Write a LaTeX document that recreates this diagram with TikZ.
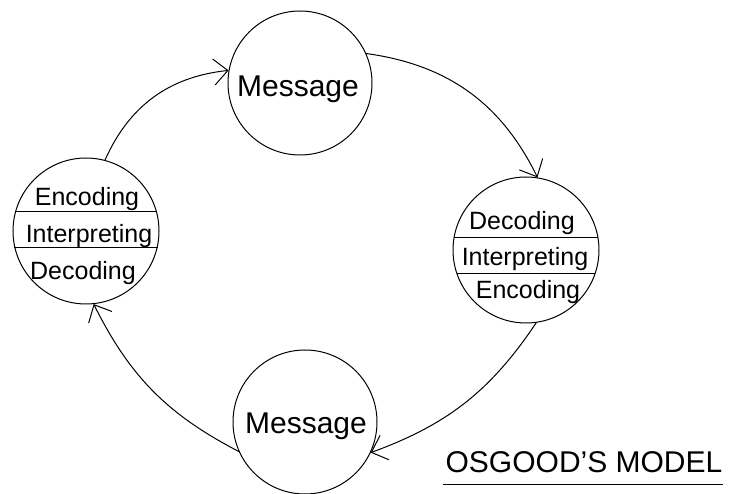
\documentclass[tikz,border=0pt]{standalone}
\usepackage{fontspec}
\setmainfont{Liberation Sans}
\usetikzlibrary{shapes,positioning,arrows.meta}
\tikzstyle{msg}=  [draw,
circle,
minimum size=144pt,
inner sep=0,
]
\tikzstyle{role}= [draw,
circle,
minimum size=146pt,
inner sep=0,
]
\tikzstyle{word}= [inner sep=0,
font=\fontsize{25}{30}\selectfont,
]
\tikzstyle{big}=  [inner sep=0,
font=\fontsize{30}{36}\selectfont,
]
\tikzstyle{flow}= [-{Straight Barb[length=14pt,width=26pt]},
bend left=25,
]

\begin{document}
\begin{tikzpicture}[x=1pt,y=-1pt,line width=1pt]
        \useasboundingbox (0,0) rectangle (732,494);
        \node[msg] (msg1) at (300,83) {};
        \node[role] (decode) at (526,250) {};
        \node[msg] (msg2) at (305,422) {};
        \node[role] (encode) at (86,231) {};

        \node[big] (msg1text) at (298,89) {Message};
        \node[big] (msg2text) at (306,426) {Message};
        \node[word] (enc1) at (87,199) {Encoding};
        \node[word] (enc2) at (89,236) {Interpreting};
        \node[word] (enc3) at (83,273) {Decoding};
        \node[word] (dec1) at (522,223) {Decoding};
        \node[word] (dec2) at (525,259) {Interpreting};
        \node[word] (dec3) at (528,292) {Encoding};
        \draw (encode.165) -- (encode.15) (encode.193) -- (encode.-13);
        \draw (decode.170) -- (decode.10) (decode.199) -- (decode.-19);

        \draw[flow, bend left=30] (encode.75) to (msg1.170);
        \draw[flow, bend left=28] (msg1.24) to (decode.81);
        \draw[flow, bend left=18] (decode.-82) to (msg2.-25);
        \draw[flow, bend left=18] (msg2.204) to (encode.-84);

        \node[inner sep=0, font=\fontsize{30}{36}\selectfont] (title) at (584,462) {OSGOOD'S MODEL};
        \draw ([xshift=-2pt,yshift=-11pt]title.south west) -- ([yshift=-11pt]title.south east);
    \end{tikzpicture}
\end{document}
